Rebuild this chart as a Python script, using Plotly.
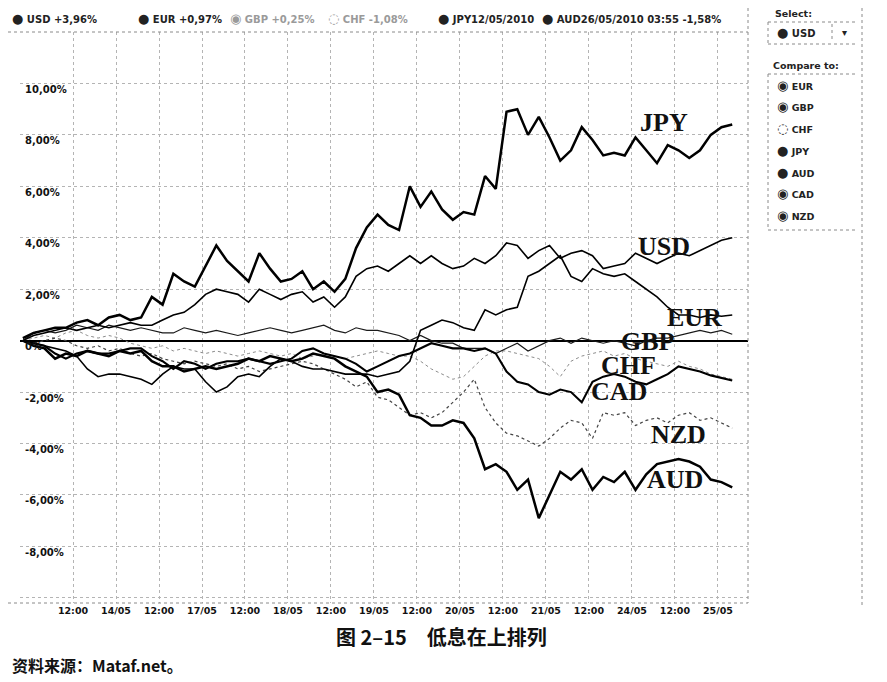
import plotly.graph_objects as go

# 交易时间（小时，13/05 00:00 为 0，周末已去掉），每 3 小时一个读数
hours = list(range(-2, 197, 3))

jpy = [0.1, 0.3, 0.4, 0.5, 0.5, 0.7, 0.8, 0.6, 0.9, 1.0, 0.8, 0.9, 1.7, 1.4, 2.6, 2.3, 2.1,
       2.9, 3.7, 3.1, 2.7, 2.3, 3.4, 2.8, 2.3, 2.4, 2.7, 2.0, 2.3, 1.9, 2.4, 3.6, 4.4, 4.9,
       4.5, 4.3, 6.0, 5.2, 5.8, 5.1, 4.7, 5.0, 4.9, 6.4, 5.9, 8.9, 9.0, 8.0, 8.7, 7.9, 7.0,
       7.4, 8.3, 7.8, 7.2, 7.3, 7.2, 7.9, 7.4, 6.9, 7.6, 7.4, 7.1, 7.4, 8.0, 8.3, 8.4]
usd = [0.0, 0.2, 0.3, 0.4, 0.5, 0.4, 0.5, 0.6, 0.5, 0.6, 0.7, 0.6, 0.6, 0.8, 1.0, 1.1, 1.4,
       1.8, 2.0, 1.9, 1.8, 1.5, 2.0, 1.8, 1.6, 1.8, 1.9, 1.5, 1.7, 1.3, 1.7, 2.5, 2.8, 2.9,
       2.7, 3.0, 3.3, 3.0, 3.3, 3.0, 2.8, 2.9, 3.2, 3.0, 3.3, 3.8, 3.7, 3.2, 3.5, 3.7, 3.2,
       3.4, 3.5, 3.3, 2.8, 2.9, 3.0, 3.4, 3.2, 3.0, 3.2, 3.4, 3.3, 3.5, 3.7, 3.9, 4.0]
eur = [0.0, -0.1, -0.2, -0.3, -0.4, -0.6, -1.1, -1.4, -1.3, -1.3, -1.4, -1.5, -1.7, -1.3,
       -1.0, -1.1, -1.1, -1.6, -2.0, -1.8, -1.4, -1.3, -1.4, -1.0, -0.7, -0.8, -1.0, -1.1,
       -1.1, -1.2, -1.3, -1.3, -1.3, -1.4, -1.3, -1.2, -0.8, 0.4, 0.6, 0.8, 0.7, 0.5, 0.4,
       1.2, 1.0, 1.2, 1.3, 2.5, 2.7, 3.0, 3.3, 2.5, 2.3, 2.8, 2.6, 2.5, 2.6, 2.3, 2.0, 1.7,
       1.3, 1.0, 1.0, 0.9, 1.0, 0.95, 1.0]
gbp = [0.0, 0.3, 0.4, 0.3, 0.4, 0.6, 0.5, 0.4, 0.6, 0.5, 0.4, 0.5, 0.4, 0.3, 0.3, 0.5, 0.4,
       0.3, 0.4, 0.3, 0.2, 0.3, 0.4, 0.5, 0.4, 0.3, 0.4, 0.5, 0.6, 0.4, 0.3, 0.5, 0.4, 0.4,
       0.3, 0.2, 0.0, 0.2, 0.0, -0.1, -0.1, -0.3, -0.3, -0.3, -0.5, -0.3, -0.1, -0.4, -0.2,
       0.0, 0.1, -0.1, 0.1, 0.0, -0.1, 0.0, -0.1, -0.2, 0.0, 0.1, 0.1, 0.2, 0.3, 0.4, 0.3,
       0.4, 0.25]
chf = [0.0, 0.1, 0.2, 0.1, 0.3, 0.4, 0.2, 0.1, 0.2, 0.1, -0.1, -0.2, -0.3, -0.2, -0.4, -0.3,
       -0.4, -0.5, -0.4, -0.5, -0.6, -0.5, -0.4, -0.5, -0.6, -0.5, -0.7, -0.6, -0.5, -0.6,
       -0.7, -0.6, -0.5, -0.4, -0.5, -0.6, -0.6, -0.8, -1.1, -1.3, -1.5, -1.4, -1.0, -0.6,
       -0.4, -0.4, -0.5, -0.6, -0.7, -1.0, -1.4, -0.8, -0.6, -0.5, -0.4, -0.6, -0.5, -0.7,
       -0.8, -0.9, -1.0, -0.8, -1.0, -1.1, -1.3, -1.4, -1.5]
cad = [0.0, -0.1, -0.2, -0.5, -0.7, -0.5, -0.4, -0.5, -0.5, -0.4, -0.3, -0.3, -0.6, -0.8,
       -1.1, -0.8, -0.9, -1.1, -0.9, -0.8, -0.8, -0.7, -0.8, -0.9, -0.8, -0.7, -0.4, -0.3,
       -0.5, -0.6, -0.7, -0.9, -1.2, -1.0, -0.8, -0.6, -0.5, -0.3, -0.1, -0.2, -0.3, -0.3,
       -0.4, -0.3, -0.5, -1.2, -1.6, -1.7, -2.0, -2.1, -1.9, -2.0, -2.4, -1.6, -1.4, -1.3,
       -1.4, -1.6, -1.7, -1.5, -1.3, -1.0, -1.1, -1.2, -1.35, -1.45, -1.55]
nzd = [0.0, -0.1, 0.0, 0.1, 0.0, -0.2, -0.3, -0.2, -0.4, -0.3, -0.5, -0.6, -0.5, -0.7, -0.8,
       -0.9, -0.8, -0.9, -1.0, -0.9, -1.1, -1.0, -1.2, -1.1, -1.0, -0.9, -0.8, -0.9, -1.1,
       -1.3, -1.5, -1.8, -1.6, -2.2, -2.3, -2.6, -2.9, -2.8, -3.0, -2.8, -2.4, -2.0, -1.5,
       -2.6, -3.2, -3.6, -3.7, -3.9, -4.1, -3.8, -3.4, -3.1, -3.2, -3.8, -2.8, -2.9, -2.8,
       -3.3, -3.1, -3.0, -3.2, -2.9, -2.8, -3.1, -3.0, -3.2, -3.4]
aud = [0.0, -0.2, -0.3, -0.7, -0.5, -0.6, -0.4, -0.5, -0.6, -0.4, -0.5, -0.4, -0.8, -1.0,
       -1.0, -1.2, -1.1, -1.0, -1.1, -1.0, -0.9, -0.7, -0.8, -0.6, -0.7, -0.8, -0.7, -0.5,
       -0.6, -0.7, -1.0, -1.2, -1.4, -2.0, -1.9, -2.1, -2.9, -3.0, -3.3, -3.3, -3.1, -3.2,
       -3.8, -5.0, -4.8, -5.1, -5.8, -5.4, -6.9, -6.0, -5.1, -5.4, -5.0, -5.8, -5.3, -5.5,
       -5.1, -5.8, -5.2, -4.8, -4.7, -4.6, -4.7, -4.9, -5.4, -5.5, -5.7]

x_ticks = [0, 12, 24, 36, 48, 60, 72, 84, 96, 108, 120, 132, 144, 156, 168, 180, 192]
x_labels = ["", "12:00", "14/05", "12:00", "17/05", "12:00", "18/05", "12:00", "19/05",
            "12:00", "20/05", "12:00", "21/05", "12:00", "24/05", "12:00", "25/05"]
y_ticks = [-10, -8, -6, -4, -2, 0, 2, 4, 6, 8, 10]
y_labels = ["-10,00%", "-8,00%", "-6,00%", "-4,00%", "-2,00%", "0%",
            "2,00%", "4,00%", "6,00%", "8,00%", "10,00%"]

# 图中手写的货币标签位置（小时, %）
label_names = ["JPY", "USD", "EUR", "GBP", "CHF", "CAD", "NZD", "AUD"]
label_x = [177, 177, 185.5, 172.5, 167, 164.5, 181, 180]
label_y = [8.5, 3.65, 0.9, -0.05, -0.97, -1.98, -3.65, -5.4]

header_icon = ["●", "●", "◉", "◌", "●", "●"]
header = ["USD +3,96%", "EUR +0,97%", "GBP +0,25%", "CHF -1,08%",
          "JPY12/05/2010", "AUD26/05/2010 03:55 -1,58%"]
header_x = [10, 136, 228, 326, 436, 540]
compare = ["EUR", "GBP", "CHF", "JPY", "AUD", "CAD", "NZD"]
compare_icon = ["◉", "◉", "◌", "●", "●", "◉", "◉"]

# 绘图区像素位置（参考图坐标）；页面 body 有 8px 外边距，需要扣掉
OFF = 8
L, R, T, B = 20, 748, 32, 603


def px(x, y):
    return (x - L) / (R - L), (B - y) / (B - T)


fig = go.Figure()

styles = [
    ("CHF", chf, 1.0, "#8c8c8c", "dot"),
    ("NZD", nzd, 1.2, "#444444", "dot"),
    ("GBP", gbp, 1.2, "#1a1a1a", "solid"),
    ("EUR", eur, 1.6, "#000000", "solid"),
    ("USD", usd, 1.6, "#000000", "solid"),
    ("CAD", cad, 2.1, "#000000", "solid"),
    ("AUD", aud, 2.5, "#000000", "solid"),
    ("JPY", jpy, 2.5, "#000000", "solid"),
]
for name, vals, w, col, dash in styles:
    fig.add_trace(go.Scatter(x=hours, y=vals, mode="lines", name=name, showlegend=False,
                             line=dict(color=col, width=w, dash=dash)))

ann = []
for n, lx, ly in zip(label_names, label_x, label_y):
    ann.append(dict(x=lx, y=ly, xref="x", yref="y", text=n, showarrow=False,
                    font=dict(family="Liberation Serif", size=26, color="#111", weight="bold")))

small = dict(family="DejaVu Sans", size=10, color="#222", weight="bold")


def icon(ch):
    return "<span style='font-size:13px'>" + ch + "</span>"


for ic, t, hx in zip(header_icon, header, header_x):
    x, y = px(hx, 18)
    col = "#9a9a9a" if ("GBP" in t or "CHF" in t) else "#222"
    ann.append(dict(x=x, y=y, xref="paper", yref="paper", text=icon(ic) + " " + t,
                    showarrow=False, xanchor="left", yanchor="middle",
                    font=dict(small, color=col)))

x, y = px(773, 13)
ann.append(dict(x=x, y=y, xref="paper", yref="paper", text="Select:", showarrow=False,
                xanchor="left", yanchor="middle", font=dict(small, size=9.5)))
x, y = px(775, 33)
ann.append(dict(x=x, y=y, xref="paper", yref="paper", text=icon("●") + " USD",
                showarrow=False, xanchor="left", yanchor="middle", font=small))
x, y = px(840, 33)
ann.append(dict(x=x, y=y, xref="paper", yref="paper", text="▾", showarrow=False,
                xanchor="left", yanchor="middle", font=small))
x, y = px(771, 66)
ann.append(dict(x=x, y=y, xref="paper", yref="paper", text="Compare to:", showarrow=False,
                xanchor="left", yanchor="middle", font=dict(small, size=9.5)))
for i, (c, ic) in enumerate(zip(compare, compare_icon)):
    x, y = px(775, 85 + i * 21.8)
    ann.append(dict(x=x, y=y, xref="paper", yref="paper", text=icon(ic) + " " + c,
                    showarrow=False, xanchor="left", yanchor="middle",
                    font=dict(small, size=9.5)))

x, y = px(441, 636)
ann.append(dict(x=x, y=y, xref="paper", yref="paper", text="图 2–15　低息在上排列",
                showarrow=False, yanchor="middle",
                font=dict(family="Noto Sans CJK SC", size=20, color="#111", weight="bold")))
x, y = px(10, 665)
ann.append(dict(x=x, y=y, xref="paper", yref="paper", text="资料来源：Mataf.net。",
                showarrow=False, xanchor="left", yanchor="middle",
                font=dict(family="Noto Sans CJK SC", size=16, color="#111", weight="bold")))

dot = dict(color="#8a8a8a", width=1, dash="dot")
shapes = []
for x0, y0, x1, y1 in [(8, T, R, T), (R, 8, R, B), (8, B, R, B),
                       (768, 22, 858, 22), (768, 44, 858, 44), (768, 22, 768, 44),
                       (832, 24, 832, 42),
                       (768, 74, 858, 74), (768, 230, 858, 230), (768, 74, 768, 230),
                       (862, 8, 862, 605)]:
    a, b = px(x0, y0)
    c, d = px(x1, y1)
    shapes.append(dict(type="line", xref="paper", yref="paper", x0=a, y0=b, x1=c, y1=d,
                       line=dot))

tick_font = dict(family="DejaVu Sans", size=9.5, color="#111", weight="bold")
fig.update_layout(
    width=887, height=682,
    margin=dict(l=L - OFF, r=887 - (R - OFF), t=T - OFF, b=682 - (B - OFF)),
    paper_bgcolor="white", plot_bgcolor="white",
    annotations=ann, shapes=shapes,
    xaxis=dict(range=[-2.8, 200.4], tickvals=x_ticks, ticktext=x_labels,
               showgrid=True, gridcolor="#b4b4b4", griddash="dot", gridwidth=1,
               zeroline=False, showline=False, ticks="", tickfont=tick_font),
    yaxis=dict(range=[-10.2, 12.0], tickvals=y_ticks, ticktext=y_labels,
               ticklabelposition="inside", ticklabelshift=6, ticklabelstandoff=2,
               showgrid=True, gridcolor="#b4b4b4", griddash="dot", gridwidth=1,
               zeroline=True, zerolinecolor="#000", zerolinewidth=1.6,
               showline=False, ticks="", tickfont=dict(tick_font, size=10)),
)

fig.write_html("out.html")
